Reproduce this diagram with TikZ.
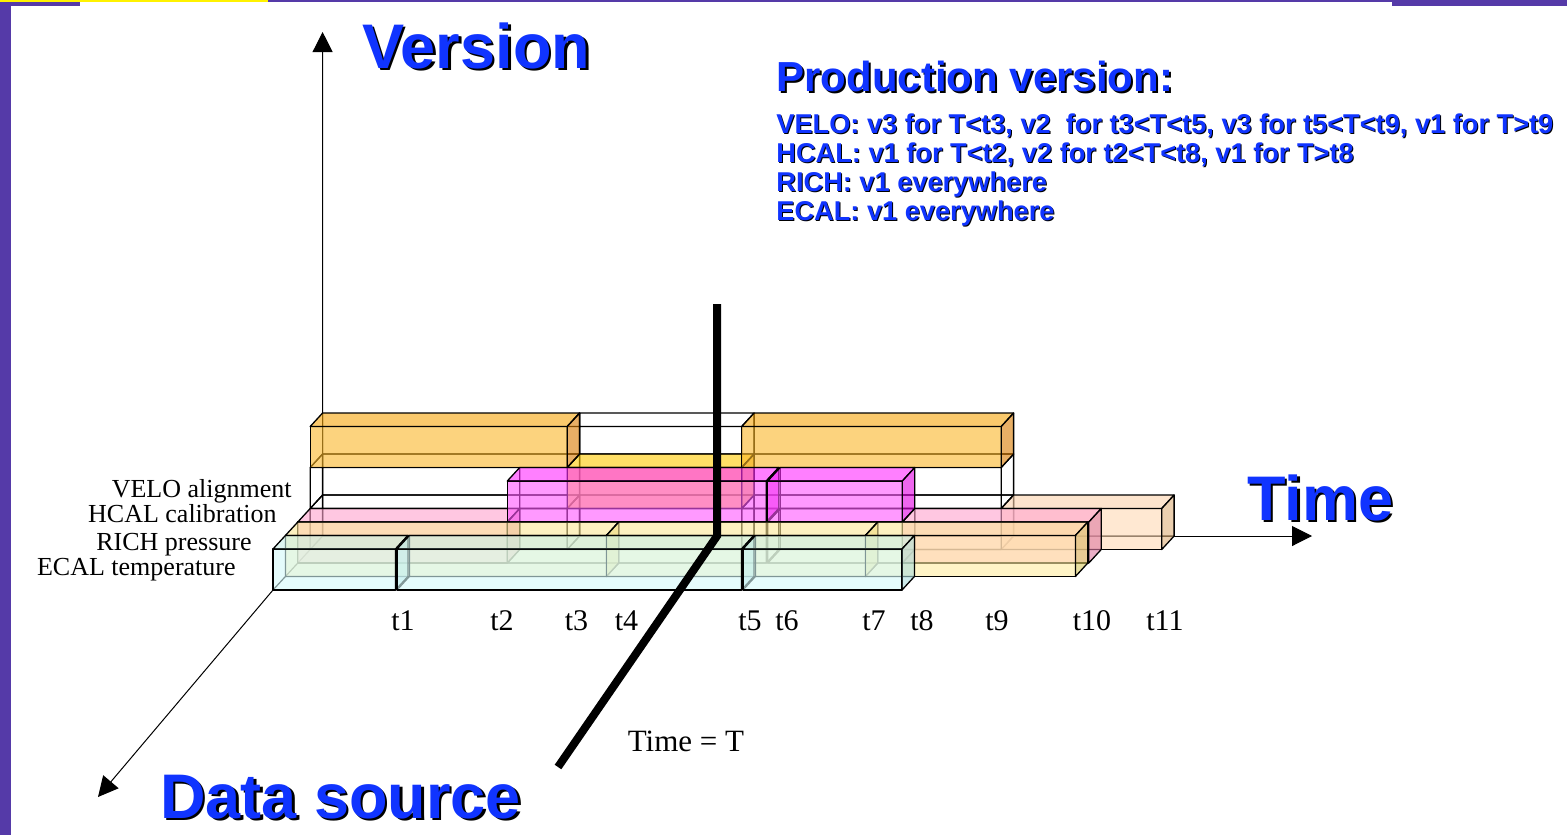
\documentclass[tikz,border=0pt]{standalone}
\usepackage{fontspec}
\setmainfont{Liberation Serif}
\newfontfamily\hsans{Liberation Sans}
\usetikzlibrary{arrows.meta}
\definecolor{titleblue}{RGB}{16,52,255}
\definecolor{barpurple}{RGB}{85,58,168}
% box colours (used with fill opacity 0.6)
\definecolor{ecalF}{RGB}{213,250,250}\definecolor{ecalT}{RGB}{200,238,230}\definecolor{ecalS}{RGB}{172,222,222}
\definecolor{richF}{RGB}{255,238,163}\definecolor{richT}{RGB}{252,230,150}\definecolor{richS}{RGB}{217,203,97}
\definecolor{pinkF}{RGB}{255,172,210}\definecolor{pinkT}{RGB}{255,163,205}\definecolor{pinkS}{RGB}{223,123,163}
\definecolor{magF}{RGB}{255,85,255}\definecolor{magT}{RGB}{255,43,255}\definecolor{magS}{RGB}{227,0,227}
\definecolor{orF}{RGB}{250,182,40}\definecolor{orT}{RGB}{248,165,10}\definecolor{orS}{RGB}{217,123,0}
\definecolor{goldF}{RGB}{255,213,13}\definecolor{goldT}{RGB}{255,203,0}\definecolor{goldS}{RGB}{230,170,0}
\definecolor{peachF}{RGB}{255,217,180}\definecolor{peachT}{RGB}{252,210,172}\definecolor{peachS}{RGB}{222,175,122}
\tikzset{
  faceedge/.style={draw=black, line width=0.65pt, fill opacity=0.6, line join=round},
  hid/.style={draw=black, line width=0.6pt},
  wire/.style={draw=black, line width=0.65pt, line join=round},
  axisline/.style={draw=black, line width=0.5pt, -{Triangle[length=10pt,width=10pt]}},
  srclabel/.style={inner sep=0pt, anchor=base east, font=\fontsize{13}{15}\selectfont},
  tlabel/.style={inner sep=0pt, anchor=base, font=\fontsize{15}{17}\selectfont},
  headtext/.style={inner sep=0pt, anchor=base west, font=\hsans\bfseries\fontsize{31.5}{36}\selectfont},
  prodhead/.style={inner sep=0pt, anchor=base west, font=\hsans\bfseries\fontsize{21}{24}\selectfont},
  prodline/.style={inner sep=0pt, anchor=base west, font=\hsans\bfseries\fontsize{13.6}{16}\selectfont},
}
% #1 t-start, #2 t-end, #3 depth slot, #4 version level, #5 colour prefix
\newcommand{\cuboid}[5]{%
  \draw[hid] (#1,#3+1,#4) -- (#2,#3+1,#4) (#1,#3+1,#4) -- (#1,#3+1,#4+1) (#1,#3,#4) -- (#1,#3+1,#4);
  \filldraw[faceedge, fill=#5F] (#1,#3,#4) -- (#2,#3,#4) -- (#2,#3,#4+1) -- (#1,#3,#4+1) -- cycle;
  \filldraw[faceedge, fill=#5T] (#1,#3,#4+1) -- (#2,#3,#4+1) -- (#2,#3+1,#4+1) -- (#1,#3+1,#4+1) -- cycle;
  \filldraw[faceedge, fill=#5S] (#2,#3,#4) -- (#2,#3+1,#4) -- (#2,#3+1,#4+1) -- (#2,#3,#4+1) -- cycle;
}
\newcommand{\wirebox}[4]{%
  \draw[wire] (#1,#3,#4) -- (#2,#3,#4) -- (#2,#3,#4+1) -- (#1,#3,#4+1) -- cycle
    (#1,#3+1,#4) -- (#2,#3+1,#4) -- (#2,#3+1,#4+1) -- (#1,#3+1,#4+1) -- cycle
    (#1,#3,#4) -- (#1,#3+1,#4) (#2,#3,#4) -- (#2,#3+1,#4)
    (#2,#3,#4+1) -- (#2,#3+1,#4+1) (#1,#3,#4+1) -- (#1,#3+1,#4+1);
}
\begin{document}
\begin{tikzpicture}[x=0.5pt, y=-0.5pt]
\useasboundingbox (0,0) rectangle (1567,835);
\fill[white] (0,0) rectangle (1567,835);
% frame decoration
\fill[barpurple] (0,0) rectangle (11,835);
\fill[yellow] (0,0) rectangle (268,2);
\fill[barpurple] (0,2) rectangle (80,6);
\fill[barpurple] (268,0) rectangle (1392,2);
\fill[barpurple] (1392,0) rectangle (1567,6);

% axes
\coordinate (vTip) at (322.6,32);
\coordinate (tTip) at (1312,536);
\coordinate (dStart) at (273,590);
\coordinate (dTip) at (98,797);
\begin{scope}[x={(0.5pt,0pt)}, y={(6.2pt,6.75pt)}, z={(0pt,20.5pt)}, shift={(0pt,-295pt)}]
  \coordinate (origin) at (273,4,0);
\end{scope}
\draw[axisline] (origin) -- (vTip);
\draw[axisline] (origin) -- (tTip);
\draw[axisline] (dStart) -- (dTip);

\begin{scope}[x={(0.5pt,0pt)}, y={(6.2pt,6.75pt)}, z={(0pt,20.5pt)}, shift={(0pt,-295pt)}]
  % VELO alignment (depth slot 3)
  \wirebox{273}{530}{3}{0}
  \wirebox{530}{704.5}{3}{0}
  \wirebox{704.5}{964}{3}{0}
  \wirebox{273}{530}{3}{1}
  \wirebox{704.5}{964}{3}{1}
  \wirebox{530}{704.5}{3}{2}
  \cuboid{964}{1124.5}{3}{0}{peach}
  \cuboid{530}{704.5}{3}{1}{gold}
  \cuboid{273}{530}{3}{2}{or}
  \cuboid{704.5}{964}{3}{2}{or}
  % HCAL calibration (depth slot 2)
  \wirebox{482.5}{741.5}{2}{0}
  \wirebox{743}{877.5}{2}{0}
  \cuboid{273}{482.5}{2}{0}{pink}
  \cuboid{877.5}{1064}{2}{0}{pink}
  \cuboid{482.5}{741.5}{2}{1}{mag}
  \cuboid{743}{877.5}{2}{1}{mag}
  % RICH pressure (depth slot 1)
  \cuboid{273}{594}{1}{0}{rich}
  \cuboid{594}{853}{1}{0}{rich}
  \cuboid{853}{1063}{1}{0}{rich}
  % ECAL temperature (depth slot 0)
  \cuboid{273}{395.5}{0}{0}{ecal}
  \cuboid{397}{741.5}{0}{0}{ecal}
  \cuboid{743}{902}{0}{0}{ecal}
\end{scope}

% data source labels
\node[srclabel] (lVelo) at (292,497.5) {VELO alignment};
\node[srclabel] (lHcal) at (277,522.5) {HCAL calibration};
\node[srclabel] (lRich) at (252,550) {RICH pressure};
\node[srclabel] (lEcal) at (236,575.5) {ECAL temperature};

% time labels
\node[tlabel] (t1) at (403,630) {t1};
\node[tlabel] (t2) at (502,630) {t2};
\node[tlabel] (t3) at (576.5,630) {t3};
\node[tlabel] (t4) at (626.5,630) {t4};
\node[tlabel] (t5) at (750,630) {t5};
\node[tlabel] (t6) at (787,630) {t6};
\node[tlabel] (t7) at (874,630) {t7};
\node[tlabel] (t8) at (922,630) {t8};
\node[tlabel] (t9) at (997,630) {t9};
\node[tlabel] (t10) at (1092,630) {t10};
\node[tlabel] (t11) at (1165,630) {t11};
\node[tlabel, font=\fontsize{15.5}{17}\selectfont] (timeT) at (686,751) {Time = T};

% marker of Time = T
\coordinate (mTop) at (717,304);
\coordinate (mBend) at (717,536);
\coordinate (mEnd) at (558,767);
\draw[line width=4pt] (mTop) -- (mBend) -- (mEnd);

% headings with shadow
\node[headtext, text=black] (versionS) at (364.5,70.5) {Version};
\node[headtext, text=titleblue] (version) at (362,68) {Version};
\node[headtext, text=black] (timeS) at (1249.5,522.5) {Time};
\node[headtext, text=titleblue] (time) at (1247,520) {Time};
\node[headtext, text=black] (dataS) at (162.5,820.5) {Data source};
\node[headtext, text=titleblue] (data) at (160,818) {Data source};
\node[prodhead, text=black] (prodS) at (778,93) {Production version:};
\node[prodhead, text=titleblue] (prod) at (776,91) {Production version:};
\node[prodline, text=black] (p1S) at (777,134) {VELO: v3 for T<t3, v2~ for t3<T<t5, v3 for t5<T<t9, v1 for T>t9};
\node[prodline, text=titleblue] (p1) at (776,133) {VELO: v3 for T<t3, v2~ for t3<T<t5, v3 for t5<T<t9, v1 for T>t9};
\node[prodline, text=black] (p2S) at (777,163) {HCAL: v1 for T<t2, v2 for t2<T<t8, v1 for T>t8};
\node[prodline, text=titleblue] (p2) at (776,162) {HCAL: v1 for T<t2, v2 for t2<T<t8, v1 for T>t8};
\node[prodline, text=black] (p3S) at (777,192) {RICH: v1 everywhere};
\node[prodline, text=titleblue] (p3) at (776,191) {RICH: v1 everywhere};
\node[prodline, text=black] (p4S) at (777,221) {ECAL: v1 everywhere};
\node[prodline, text=titleblue] (p4) at (776,220) {ECAL: v1 everywhere};
\end{tikzpicture}
\end{document}
